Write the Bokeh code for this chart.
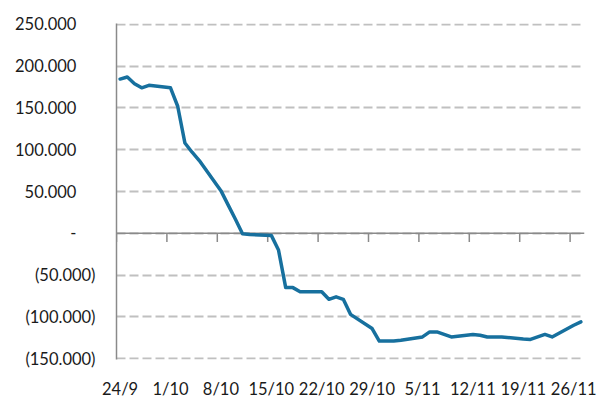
import pandas as pd
from bokeh.plotting import figure
from bokeh.models import FixedTicker
from bokeh.embed import file_html
from bokeh.resources import INLINE

# ---- data ----
dates = ["2012-09-24", "2012-09-25", "2012-09-26", "2012-09-27", "2012-09-28",
         "2012-10-01", "2012-10-02", "2012-10-03", "2012-10-04", "2012-10-05",
         "2012-10-08", "2012-10-09", "2012-10-10", "2012-10-11", "2012-10-12",
         "2012-10-15", "2012-10-16", "2012-10-17", "2012-10-18", "2012-10-19",
         "2012-10-22", "2012-10-23", "2012-10-24", "2012-10-25", "2012-10-26",
         "2012-10-29", "2012-10-30", "2012-10-31", "2012-11-01", "2012-11-02",
         "2012-11-05", "2012-11-06", "2012-11-07", "2012-11-08", "2012-11-09",
         "2012-11-12", "2012-11-13", "2012-11-14", "2012-11-15", "2012-11-16",
         "2012-11-19", "2012-11-20", "2012-11-21", "2012-11-22", "2012-11-23",
         "2012-11-26", "2012-11-27"]
values = [184500, 187000, 179000, 174000, 177000,
          174000, 152000, 108000, 97000, 87000,
          51000, 34000, 17000, -500, -1500,
          -2500, -20000, -65000, -65000, -70000,
          -70000, -79000, -76000, -79000, -97000,
          -114000, -129000, -129000, -129000, -128000,
          -124000, -118000, -118000, -121000, -124000,
          -121000, -122000, -124000, -124000, -124000,
          -126500, -127000, -124000, -121000, -124000,
          -110000, -106000]
x_tick_labels = ["24/9", "1/10", "8/10", "15/10", "22/10", "29/10",
                 "5/11", "12/11", "19/11", "26/11"]
y_ticks = [-150000, -100000, -50000, 0, 50000, 100000, 150000, 200000, 250000]
PAD = "\u2007\u2007"
y_tick_labels = ["(150.000)", "(100.000)", "(50.000)", "-" + PAD,
                 "50.000" + PAD, "100.000" + PAD, "150.000" + PAD,
                 "200.000" + PAD, "250.000" + PAD]

start = pd.Timestamp(dates[0])
day_idx = [(pd.Timestamp(d) - start).days + 0.5 for d in dates]   # centre of day slot
week_bounds = [7 * i for i in range(len(x_tick_labels))]
label_pos = [w + 0.5 for w in week_bounds]

FONT = "Lato"
TXT = "#1a1a1a"
AX = "#8a8a8a"

p = figure(width=600, height=401, output_backend="svg", toolbar_location=None,
           x_range=(0, 65), y_range=(-151000, 251000),
           min_border_left=116, min_border_right=16, min_border_top=23,
           min_border_bottom=42)
p.outline_line_color = None
p.background_fill_color = "white"
p.border_fill_color = "white"

# grid
p.xgrid.grid_line_color = None
p.ygrid.ticker = FixedTicker(ticks=y_ticks)
p.ygrid.grid_line_color = "#c0c0c0"
p.ygrid.grid_line_width = 2
p.ygrid.grid_line_dash = "9 4"

# y axis
p.yaxis.ticker = FixedTicker(ticks=y_ticks)
p.yaxis.major_label_overrides = {t: l for t, l in zip(y_ticks, y_tick_labels)}
p.yaxis.axis_line_color = AX
p.yaxis.axis_line_width = 1.5
p.yaxis.major_tick_line_color = None
p.yaxis.minor_tick_line_color = None
p.yaxis.major_label_standoff = 15
p.yaxis.major_label_text_font = FONT
p.yaxis.major_label_text_font_size = "16.5px"
p.yaxis.major_label_text_color = TXT

# x axis (labels only, low position)
p.xaxis.ticker = FixedTicker(ticks=label_pos)
p.xaxis.major_label_overrides = {t: l for t, l in zip(label_pos, x_tick_labels)}
p.xaxis.axis_line_color = None
p.xaxis.major_tick_line_color = None
p.xaxis.minor_tick_line_color = None
p.xaxis.major_label_standoff = 13
p.xaxis.major_label_text_font = FONT
p.xaxis.major_label_text_font_size = "16.5px"
p.xaxis.major_label_text_color = TXT

# horizontal category axis line crossing at zero, with tick marks
p.segment(x0=[0], y0=[0], x1=[65], y1=[0], line_color=AX, line_width=1.5)
p.segment(x0=week_bounds, y0=[0] * len(week_bounds), x1=week_bounds,
          y1=[-10500] * len(week_bounds), line_color=AX, line_width=1.5)

# series
p.line(day_idx, values, line_color="#17709e", line_width=3.5, line_join="round",
       line_cap="round")

open("out.html", "w").write(file_html(p, INLINE))
